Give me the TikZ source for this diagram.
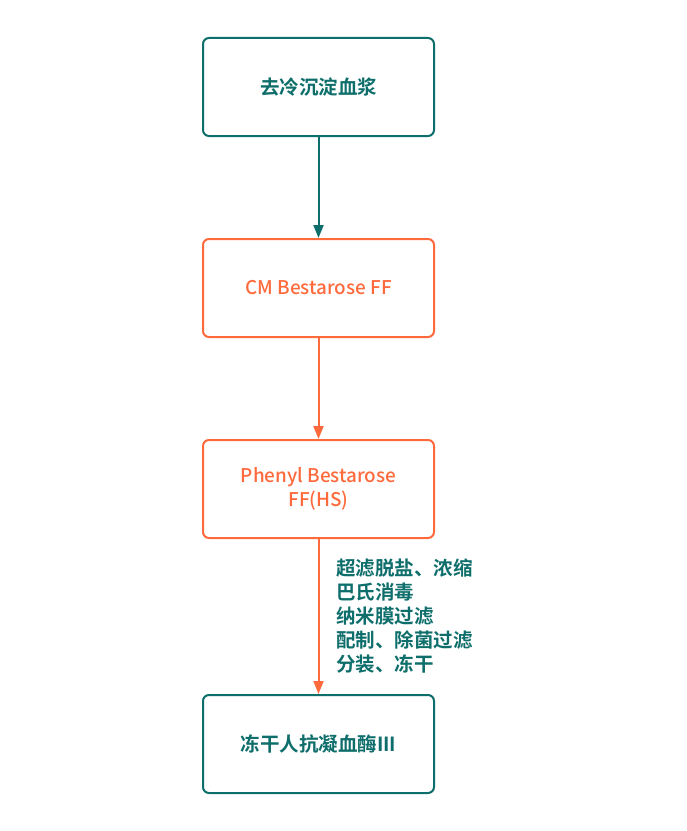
\documentclass[tikz,border=0pt]{standalone}
\usepackage{fontspec}
\setmainfont{Noto Sans CJK SC}
\newfontfamily\cjkbold{Noto Sans CJK SC Bold}
\newfontfamily\cjkmed{Noto Sans CJK SC Medium}
\usetikzlibrary{arrows.meta}
\definecolor{tealc}{HTML}{0E6E6B}
\definecolor{orangec}{HTML}{FF6A3D}
\tikzset{
  boxstyle/.style={draw, line width=2bp, rounded corners=6bp, minimum width=231bp, minimum height=98bp, inner sep=0pt, align=center, fill=white},
  tealbox/.style={boxstyle, draw=tealc, text=tealc, font=\cjkbold\fontsize{19.5bp}{24bp}\selectfont},
  orangebox/.style={boxstyle, draw=orangec, text=orangec, font=\cjkmed\fontsize{18.9bp}{24bp}\selectfont},
  conn/.style={line width=2bp, -{Triangle[length=13bp,width=10bp]}},
}
\begin{document}
\begin{tikzpicture}[x=1bp,y=-1bp]
\useasboundingbox (0,0) rectangle (687,831);
\node[tealbox] (a) at (318.5,87) {去冷沉淀血浆};
\node[orangebox] (b) at (318.5,288) {CM Bestarose FF};
\node[orangebox] (c) at (318.5,489) {Phenyl Bestarose\\FF(HS)};
\node[tealbox] (d) at (318.5,744) {冻干人抗凝血酶III};
\draw[conn, tealc] (a.south) -- (b.north);
\draw[conn, orangec] (b.south) -- (c.north);
\draw[conn, orangec] (c.south) -- (d.north);
\node[anchor=west, align=left, text=tealc, font=\cjkbold\fontsize{19.5bp}{24.2bp}\selectfont, inner sep=0pt] (lab) at (336,616) {超滤脱盐、浓缩\\巴氏消毒\\纳米膜过滤\\配制、除菌过滤\\分装、冻干};
\end{tikzpicture}
\end{document}
